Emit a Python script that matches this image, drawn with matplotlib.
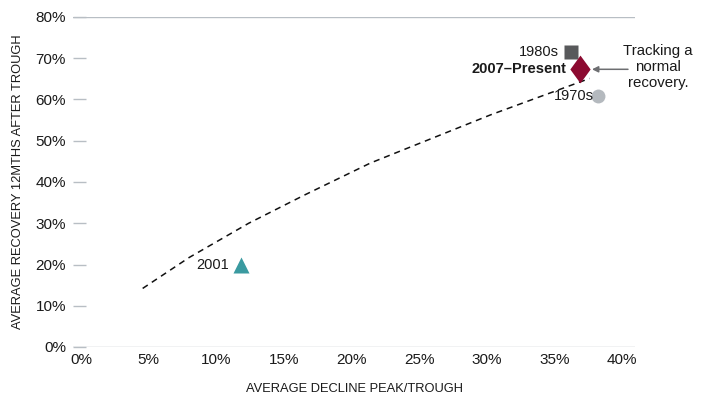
import matplotlib
matplotlib.use("Agg")
import matplotlib.pyplot as plt
from matplotlib.path import Path

plt.rcParams['font.family'] = ['Liberation Sans', 'DejaVu Sans']

# Decline vs. recovery by downturn
periods = ["1980s", "2007\u2013Present", "1970s", "2001"]
decline = [36.2, 36.9, 38.25, 11.8]
recovery = [71.4, 67.3, 60.85, 19.9]

# Normal-recovery trend line
trend_x = [4.56, 8.0, 12.4, 16.5, 21.4, 30.3, 37.6]
trend_y = [14.2, 21.7, 30.0, 36.8, 44.6, 56.3, 65.1]

x_ticks = [0, 5, 10, 15, 20, 25, 30, 35, 40]
y_ticks = [0, 10, 20, 30, 40, 50, 60, 70, 80]

diamond = Path([(0, 1), (0.73, 0), (0, -1), (-0.73, 0), (0, 1)],
               [Path.MOVETO, Path.LINETO, Path.LINETO, Path.LINETO, Path.CLOSEPOLY])

styles = {
    "1980s": dict(marker="s", color="#58595b", ms=10),
    "2007\u2013Present": dict(marker=diamond, color="#8c0a30", ms=20),
    "1970s": dict(marker="o", color="#b4b9be", ms=10),
    "2001": dict(marker="^", color="#3a9aa0", ms=12),
}
label_offsets = {
    "1980s": (-8.5, 0),
    "2007\u2013Present": (-10, 0),
    "1970s": (-3.5, 0),
    "2001": (-8, 0),
}

TEXT = "#1a1a1a"
GRID = "#b8bec4"

W, H = 701, 398
fig = plt.figure(figsize=(W / 100, H / 100), dpi=100)
ax = fig.add_axes([73 / W, (H - 347) / H, (635 - 73) / W, 330 / H])

ax.plot(trend_x, trend_y, color="#111111", lw=1.1, ls=(0, (4, 3.2)), zorder=2)

for name, dx, dy in zip(periods, decline, recovery):
    st = styles[name]
    ax.plot([dx], [dy], ls="none", marker=st["marker"], color=st["color"],
            ms=st["ms"], mec="none", zorder=3)
    ax.annotate(name, (dx, dy), xytext=label_offsets[name], textcoords="offset points",
                ha="right", va="center", fontsize=10.5, color=TEXT,
                fontweight="bold" if "Present" in name else "normal", zorder=4)

# callout
fig.text(658 / W, (H - 67) / H, "Tracking a\nnormal\nrecovery.", ha="center", va="center",
         fontsize=10.8, color=TEXT, linespacing=1.2)
ax.annotate("", xy=(592, H - 69.3), xycoords="figure pixels",
            xytext=(628, H - 69.3), textcoords="figure pixels",
            arrowprops=dict(arrowstyle="-|>", color="#6d6e71", lw=1.1,
                            shrinkA=0, shrinkB=0, mutation_scale=9))

ax.set_xlim(-0.59, 40.96)
ax.set_ylim(0, 80)
ax.set_xticks(x_ticks)
ax.set_xticklabels([f"{v}%" for v in x_ticks])
ax.set_yticks(y_ticks)
ax.set_yticklabels([f"{v}%" for v in y_ticks])

for s in ax.spines.values():
    s.set_visible(False)
for yv in (0, 80):
    ax.axhline(yv, color=GRID, lw=1.0, zorder=1)

ax.tick_params(axis="y", direction="in", length=9, width=1.0, color=GRID,
               pad=5, labelsize=11, labelcolor=TEXT)
ax.tick_params(axis="x", length=0, pad=4, labelsize=11, labelcolor=TEXT)

ax.set_xlabel("AVERAGE DECLINE PEAK/TROUGH", fontsize=9.3, color=TEXT, va="center")
ax.set_ylabel("AVERAGE RECOVERY 12MTHS AFTER TROUGH", fontsize=9.3, color=TEXT, va="center")
ax.xaxis.set_label_coords(0.5, (347 - 389) / 330)
ax.yaxis.set_label_coords((18 - 73) / 562, 0.5)

fig.savefig("out.png", dpi=100)
